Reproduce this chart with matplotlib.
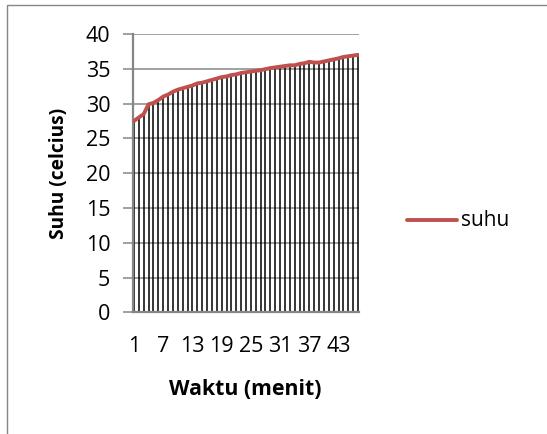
import matplotlib
matplotlib.use("Agg")
import matplotlib.pyplot as plt
from matplotlib.patches import Rectangle
from matplotlib.lines import Line2D

# Temperature readings, one per minute
menit = list(range(1, 48))
suhu = [27.5, 28.0, 28.5, 29.9, 30.1, 30.5, 31.0, 31.3, 31.7, 32.0,
        32.2, 32.4, 32.6, 32.9, 33.0, 33.2, 33.4, 33.6, 33.8, 33.9,
        34.1, 34.2, 34.4, 34.5, 34.6, 34.7, 34.8, 34.95, 35.1, 35.2,
        35.3, 35.4, 35.5, 35.5, 35.7, 35.8, 36.0, 35.9, 35.9, 36.05,
        36.2, 36.35, 36.5, 36.7, 36.8, 36.9, 37.0]
x_ticks = [1, 7, 13, 19, 25, 31, 37, 43]
y_ticks = [0, 5, 10, 15, 20, 25, 30, 35, 40]

FONT = "Open Sans"
GRID = "#868686"
RED = "#C0504D"
TICK_SIZE = 15.5

fig = plt.figure(figsize=(5.47, 4.34), dpi=100)
fig.patch.set_facecolor("white")

# chart frame
fig.add_artist(Rectangle((7 / 547, -0.1), 1.2, 1 - 4.5 / 434 + 0.1,
                         transform=fig.transFigure, fill=False,
                         edgecolor=GRID, linewidth=1.0))

ax = fig.add_axes([132.5 / 547, 1 - 312.3 / 434,
                   (358.5 - 132.5) / 547, (312.3 - 34) / 434])

ax.set_xlim(0.7, 47.1)
ax.set_ylim(0, 40)

ax.yaxis.grid(True, color=GRID, linewidth=1.1, zorder=1)
ax.set_axisbelow(True)

# drop lines from each reading to the axis
ax.vlines(menit, 0, suhu, color="black", linewidth=1.1, zorder=2)
ax.plot(menit, suhu, color=RED, linewidth=2.8, solid_capstyle="round",
        zorder=3)

for side in ("top", "right"):
    ax.spines[side].set_visible(False)
for side in ("left", "bottom"):
    ax.spines[side].set_color(GRID)
    ax.spines[side].set_linewidth(1.6)

ax.set_yticks(y_ticks)
ax.set_xticks(x_ticks)
ax.set_xticklabels([str(t) for t in x_ticks])
ax.tick_params(axis="y", length=7, width=1.1, color=GRID, pad=9,
               labelsize=TICK_SIZE)
ax.tick_params(axis="x", length=0, pad=17, labelsize=TICK_SIZE)
for lab in ax.get_xticklabels() + ax.get_yticklabels():
    lab.set_fontfamily(FONT)

ax.set_ylabel("Suhu (celcius)", fontsize=13.8, fontweight="bold",
              fontfamily=FONT, labelpad=12)
ax.set_xlabel("Waktu (menit)", fontsize=15.3, fontweight="bold",
              fontfamily=FONT, labelpad=16)

# legend entry
fig.add_artist(Line2D([407 / 547, 457 / 547], [1 - 220 / 434] * 2,
                      color=RED, linewidth=2.8, solid_capstyle="round",
                      transform=fig.transFigure))
fig.text(461 / 547, 1 - 221 / 434, "suhu", fontsize=15, fontfamily=FONT,
         va="center", ha="left")

fig.savefig("out.png", dpi=100)
